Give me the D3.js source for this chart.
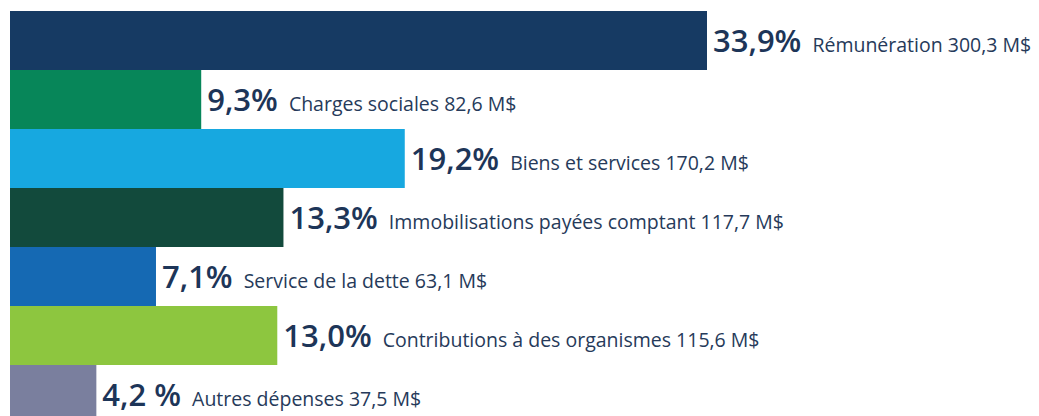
<!DOCTYPE html>
<html>
<head>
<meta charset="utf-8">
<script src="https://cdn.jsdelivr.net/npm/d3@7"></script>
<style>
  html, body { margin: 0; padding: 0; background: #fff; }
  svg { display: block; }
</style>
</head>
<body>
<svg id="chart" width="1039" height="416"></svg>
<script>
const categories = [
  "Rémunération",
  "Charges sociales",
  "Biens et services",
  "Immobilisations payées comptant",
  "Service de la dette",
  "Contributions à des organismes",
  "Autres dépenses"
];
const percents = [33.9, 9.3, 19.2, 13.3, 7.1, 13.0, 4.2];
const percentLabels = ["33,9%", "9,3%", "19,2%", "13,3%", "7,1%", "13,0%", "4,2 %"];
const amounts = ["300,3 M$", "82,6 M$", "170,2 M$", "117,7 M$", "63,1 M$", "115,6 M$", "37,5 M$"];
const colors = ["#163a63", "#078659", "#17a8e0", "#124a3c", "#1569b3", "#8dc63f", "#7a7f9e"];

const svg = d3.select("#chart");
const marginLeft = 10, marginTop = 11, band = 59;

const x = d3.scaleLinear().domain([0, 33.9]).range([0, 697]);
const y = d3.scaleBand()
  .domain(categories)
  .range([marginTop, marginTop + band * categories.length])
  .padding(0);

const g = svg.selectAll("g.bar")
  .data(categories)
  .enter()
  .append("g")
  .attr("class", "bar")
  .attr("transform", (d) => `translate(${marginLeft},${y(d)})`);

g.append("rect")
  .attr("width", (d, i) => x(percents[i]))
  .attr("height", y.bandwidth())
  .style("fill", (d, i) => colors[i]);

const label = g.append("text")
  .attr("x", (d, i) => x(percents[i]) + 6)
  .attr("y", y.bandwidth() / 2 + 11)
  .style("fill", "#1d3558")
  .style("font-family", "'Open Sans', sans-serif");

label.append("tspan")
  .text((d, i) => percentLabels[i])
  .style("font-size", "31px")
  .style("font-weight", "600");

label.append("tspan")
  .attr("dx", 11)
  .text((d, i) => `${d} ${amounts[i]}`)
  .style("font-size", "19.5px")
  .style("font-weight", "400")
  .style("fill", "#263a5a");
</script>
</body>
</html>
